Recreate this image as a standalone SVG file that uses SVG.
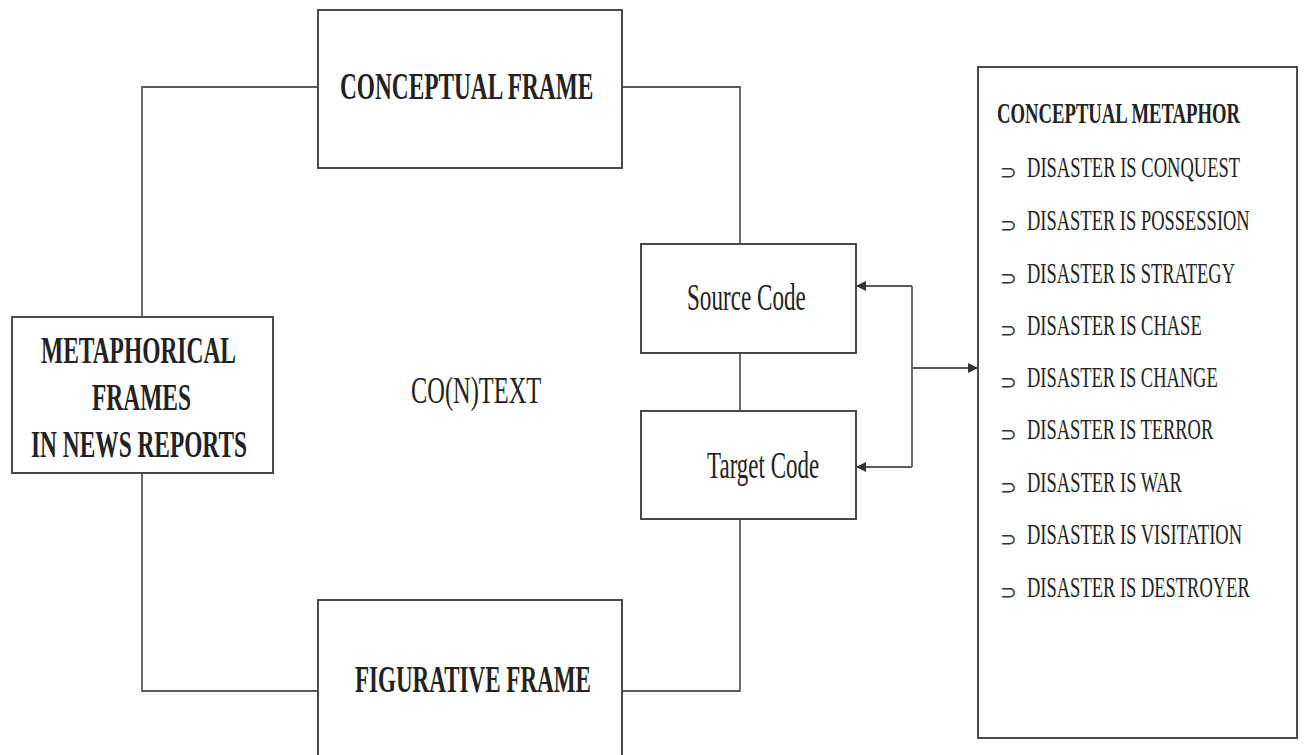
<svg xmlns="http://www.w3.org/2000/svg" width="1305" height="755" viewBox="0 0 1305 755">
<style>
.box{fill:#fff;stroke:#4a4a4a;stroke-width:2}
.ln{fill:none;stroke:#5a5a5a;stroke-width:1.8}
.t{font-family:"Liberation Serif","Times New Roman",serif;fill:#222}
.b{font-weight:bold;font-size:37px}
.n{font-size:38px}
.li{font-size:29px}
.bul{font-family:"DejaVu Sans",sans-serif;font-size:20px;fill:#333}
</style>
<defs>
<marker id="ah" markerWidth="10" markerHeight="10" refX="9" refY="5" orient="auto" markerUnits="userSpaceOnUse">
<path d="M0,0 L10,5 L0,10 z" fill="#333"/>
</marker>
</defs>
<rect width="1305" height="755" fill="#fff"/>
<g id="connectors">
<polyline class="ln" points="318,87 142,87 142,317"/>
<polyline class="ln" points="142,473 142,691 318,691"/>
<polyline class="ln" points="622,87 740,87 740,244"/>
<polyline class="ln" points="622,691 740,691 740,519"/>
<line class="ln" x1="740" y1="353" x2="740" y2="411"/>
<polyline class="ln" points="912,286 912,467"/>
<line class="ln" x1="912" y1="286" x2="857" y2="286" marker-end="url(#ah)"/>
<line class="ln" x1="912" y1="467" x2="857" y2="467" marker-end="url(#ah)"/>
<line class="ln" x1="912" y1="368" x2="977" y2="368" marker-end="url(#ah)"/>
</g>
<g id="conceptual-frame">
<rect class="box" x="318" y="10" width="304" height="158"/>
<text class="t b" transform="translate(340,99) scale(0.6,1)" textLength="422" lengthAdjust="spacingAndGlyphs">CONCEPTUAL FRAME</text>
</g>
<g id="metaphorical-frames">
<rect class="box" x="12" y="317" width="261" height="156"/>
<text class="t b" transform="translate(41,363) scale(0.6,1)" textLength="325" lengthAdjust="spacingAndGlyphs">METAPHORICAL</text>
<text class="t b" transform="translate(92,410) scale(0.6,1)" textLength="165" lengthAdjust="spacingAndGlyphs">FRAMES</text>
<text class="t b" transform="translate(31,457) scale(0.6,1)" textLength="360" lengthAdjust="spacingAndGlyphs">IN NEWS REPORTS</text>
</g>
<g id="context">
<text class="t n" transform="translate(411,403) scale(0.6,1)" textLength="217" lengthAdjust="spacingAndGlyphs">CO(N)TEXT</text>
</g>
<g id="figurative-frame">
<rect class="box" x="318" y="600" width="304" height="160"/>
<text class="t b" transform="translate(355,692) scale(0.6,1)" textLength="393" lengthAdjust="spacingAndGlyphs">FIGURATIVE FRAME</text>
</g>
<g id="source-code">
<rect class="box" x="641" y="244" width="215" height="109"/>
<text class="t n" transform="translate(687,310) scale(0.6,1)" textLength="198" lengthAdjust="spacingAndGlyphs">Source Code</text>
</g>
<g id="target-code">
<rect class="box" x="641" y="411" width="215" height="108"/>
<text class="t n" transform="translate(707,478) scale(0.6,1)" textLength="187" lengthAdjust="spacingAndGlyphs">Target Code</text>
</g>
<g id="conceptual-metaphor">
<rect class="box" x="978" y="67" width="319" height="671"/>
<text class="t li" transform="translate(997,123) scale(0.62,1)" font-weight="bold" textLength="392" lengthAdjust="spacingAndGlyphs">CONCEPTUAL METAPHOR</text>
<g class="bul">
<text x="1000" y="179">⊃</text>
<text x="1000" y="232">⊃</text>
<text x="1000" y="285">⊃</text>
<text x="1000" y="337">⊃</text>
<text x="1000" y="389">⊃</text>
<text x="1000" y="441">⊃</text>
<text x="1000" y="494">⊃</text>
<text x="1000" y="546">⊃</text>
<text x="1000" y="599">⊃</text>
</g>
<text class="t li" transform="translate(1027,177) scale(0.64,1)" textLength="333" lengthAdjust="spacingAndGlyphs">DISASTER IS CONQUEST</text>
<text class="t li" transform="translate(1027,230) scale(0.64,1)" textLength="348" lengthAdjust="spacingAndGlyphs">DISASTER IS POSSESSION</text>
<text class="t li" transform="translate(1027,283) scale(0.64,1)" textLength="325" lengthAdjust="spacingAndGlyphs">DISASTER IS STRATEGY</text>
<text class="t li" transform="translate(1027,335) scale(0.64,1)" textLength="273" lengthAdjust="spacingAndGlyphs">DISASTER IS CHASE</text>
<text class="t li" transform="translate(1027,387) scale(0.64,1)" textLength="298" lengthAdjust="spacingAndGlyphs">DISASTER IS CHANGE</text>
<text class="t li" transform="translate(1027,439) scale(0.64,1)" textLength="291" lengthAdjust="spacingAndGlyphs">DISASTER IS TERROR</text>
<text class="t li" transform="translate(1027,492) scale(0.64,1)" textLength="242" lengthAdjust="spacingAndGlyphs">DISASTER IS WAR</text>
<text class="t li" transform="translate(1027,544) scale(0.64,1)" textLength="336" lengthAdjust="spacingAndGlyphs">DISASTER IS VISITATION</text>
<text class="t li" transform="translate(1027,597) scale(0.64,1)" textLength="348" lengthAdjust="spacingAndGlyphs">DISASTER IS DESTROYER</text>
</g>
</svg>
